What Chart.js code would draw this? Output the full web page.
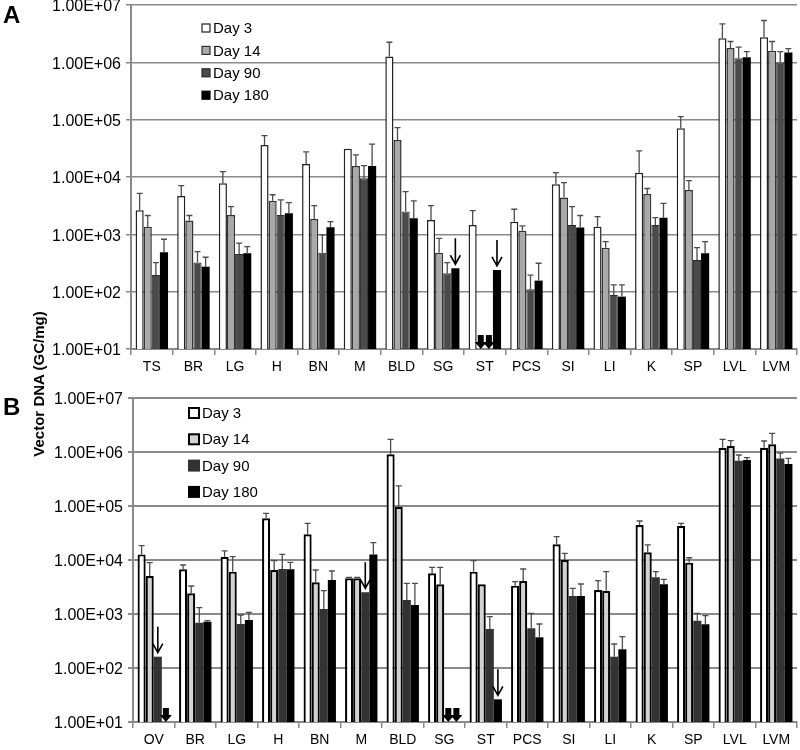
<!DOCTYPE html>
<html>
<head>
<meta charset="utf-8">
<script src="https://cdn.jsdelivr.net/npm/chart.js@4.4.1/dist/chart.umd.min.js"></script>
<style>
  body { margin: 0; background: #fff; width: 800px; height: 750px; position: relative; overflow: hidden;
         font-family: "Liberation Sans", Arial, sans-serif; }
  canvas { position: absolute; left: 0; }
  #chartA { top: -10px; }
  #chartB { top: 375px; }
  .panel { position: absolute; left: 3px; font-weight: bold; font-size: 24px; line-height: 24px; }
  #ytitle { position: absolute; left: 38px; top: 384px; font-weight: bold; font-size: 15px; white-space: nowrap;
            transform: translate(-50%, -50%) rotate(-90deg); }
</style>
</head>
<body>
<canvas id="chartA" width="800" height="390"></canvas>
<canvas id="chartB" width="800" height="375"></canvas>
<div class="panel" style="top:3px">A</div>
<div class="panel" style="top:395px">B</div>
<div id="ytitle">Vector DNA (GC/mg)</div>
<script>
const seriesNames = ["Day 3", "Day 14", "Day 90", "Day 180"];
const yTicks = [1e1, 1e2, 1e3, 1e4, 1e5, 1e6, 1e7];

// panel A
const catsA = ["TS", "BR", "LG", "H", "BN", "M", "BLD", "SG", "ST", "PCS", "SI", "LI", "K", "SP", "LVL", "LVM"];
const a3     = [2630, 4680, 7800, 36300, 16900, 31000, 1.26e6, 1780, 1460, 1660, 7460, 1350, 11900, 70900, 2.64e6, 2.75e6];
const a3Hi   = [5200, 7080, 12400, 52500, 27400, 31000, 2.24e6, 3170, 2590, 2740, 11900, 2040, 28500, 113000, 4.68e6, 5.37e6];
const a14    = [1360, 1740, 2180, 3870, 1860, 15600, 44400, 479, null, 1150, 4370, 586, 5070, 5960, 1.77e6, 1.59e6];
const a14Hi  = [2130, 2130, 3040, 4900, 3170, 24300, 72800, 850, null, 1400, 7980, 746, 6300, 8650, 2.31e6, 2.31e6];
const a90    = [195, 324, 455, 2180, 479, 9530, 2490, 209, null, 110, 1460, 87.5, 1460, 357, 1.18e6, 9.9e5];
const a90Hi  = [320, 499, 700, 3980, 975, 15800, 5560, 322, null, 195, 3040, 131, 1950, 586, 1.84e6, 1.54e6];
const a180   = [487, 273, 468, 2330, 1330, 15600, 1910, 256, 239, 156, 1310, 81.9, 1950, 468, 1.23e6, 1.48e6];
const a180Hi = [820, 398, 610, 3570, 1660, 37300, 3830, 256, 239, 313, 2130, 131, 3470, 746, 1.54e6, 1.74e6];
const arrowsA = [["SG", 3], ["ST", 3]];          // above-bar arrows
const notDetA = [["ST", 1], ["ST", 2]];          // below detection

// panel B
const catsB = ["OV", "BR", "LG", "H", "BN", "M", "BLD", "SG", "ST", "PCS", "SI", "LI", "K", "SP", "LVL", "LVM"];
const b3     = [12700, 6720, 11500, 59200, 29900, 4580, 9.06e5, 5670, 6080, 3350, 19500, 2780, 44500, 42700, 1.2e6, 1.2e6];
const b3Hi   = [18400, 8080, 14700, 73200, 47800, 4760, 1.72e6, 7330, 9720, 3970, 27000, 4140, 52700, 47800, 1.72e6, 1.6e6];
const b14    = [5050, 2420, 6080, 6530, 3860, 4580, 97000, 3550, 3550, 4080, 10000, 2700, 13900, 8940, 1.29e6, 1.39e6];
const b14Hi  = [8910, 3300, 11500, 9720, 6530, 4760, 2.35e5, 7330, 3550, 6810, 13300, 6080, 19000, 11000, 1.62e6, 2.22e6];
const b90    = [162, 690, 653, 6810, 1240, 2520, 1820, null, 527, 543, 2150, 162, 4790, 752, 6.9e5, 7.6e5];
const b90Hi  = [162, 1310, 958, 12700, 2700, 2520, 3700, null, 891, 1030, 2990, 278, 6080, 1030, 8.8e5, 9.5e5];
const b180   = [null, 721, 774, 6720, 4260, 12700, 1470, null, 26.3, 370, 2150, 222, 3550, 644, 7.1e5, 6.0e5];
const b180Hi = [null, 752, 1070, 9060, 6250, 20900, 3700, null, 26.3, 653, 3590, 380, 4390, 931, 7.9e5, 7.6e5];
const arrowsB = [["OV", 2], ["M", 2], ["ST", 3]];
const notDetB = [["OV", 3], ["SG", 2], ["SG", 3]];

const fillsA = ["#ffffff", "#a9a9a9", "#4a4a4a", "#000000"];
const edgesA = ["#222222", "#333333", "#2a2a2a", "#000000"];
const fillsB = ["#ffffff", "#d2d2d2", "#333333", "#000000"];
const edgesB = ["#000000", "#000000", "#333333", "#000000"];

const tickFont = { size: 16, family: "'Liberation Sans Narrow', 'Arial Narrow', 'Liberation Sans', sans-serif" };
const catFont = { size: 14, family: "'Liberation Sans', Arial, sans-serif" };

function fmtSci(v) {
  const e = Math.round(Math.log10(v));
  return "1.00E+" + String(e).padStart(2, "0");
}

const errorBars = {
  id: "errorBars",
  afterDatasetsDraw(chart) {
    const ctx = chart.ctx, y = chart.scales.y;
    const hi = chart.options.plugins.errorBars.hi;
    ctx.save();
    ctx.strokeStyle = "#4d4d4d";
    ctx.lineWidth = 1.3;
    chart.data.datasets.forEach((ds, i) => {
      chart.getDatasetMeta(i).data.forEach((bar, j) => {
        const v = ds.data[j], top = hi[i][j];
        if (v == null || top == null || top <= v) return;
        const y0 = y.getPixelForValue(v), y1 = y.getPixelForValue(top);
        ctx.beginPath();
        ctx.moveTo(bar.x, y0);
        ctx.lineTo(bar.x, y1);
        ctx.moveTo(bar.x - 3, y1);
        ctx.lineTo(bar.x + 3, y1);
        ctx.stroke();
      });
    });
    ctx.restore();
  }
};

const markers = {
  id: "markers",
  afterDatasetsDraw(chart) {
    const ctx = chart.ctx, x = chart.scales.x, y = chart.scales.y;
    const o = chart.options.plugins.markers;
    const n = chart.data.datasets.length;
    const barX = (cat, s) => {
      const el = chart.getDatasetMeta(s).data[chart.data.labels.indexOf(cat)];
      if (el && isFinite(el.x)) return el.x;
      const w = (x.getPixelForValue(1) - x.getPixelForValue(0)) * 0.78;
      return x.getPixelForValue(chart.data.labels.indexOf(cat)) - w / 2 + w / n * (s + 0.5);
    };
    ctx.save();
    ctx.strokeStyle = "#000";
    ctx.fillStyle = "#000";
    ctx.lineWidth = 1.6;
    o.arrows.forEach(([cat, s]) => {
      const v = chart.data.datasets[s].data[chart.data.labels.indexOf(cat)];
      const px = barX(cat, s);
      const tip = y.getPixelForValue(v) - 4;
      ctx.beginPath();
      ctx.moveTo(px, tip - 26);
      ctx.lineTo(px, tip);
      ctx.moveTo(px - 5, tip - 9);
      ctx.lineTo(px, tip);
      ctx.lineTo(px + 5, tip - 9);
      ctx.stroke();
    });
    o.notDetected.forEach(([cat, s]) => {
      const px = barX(cat, s);
      const base = y.bottom;
      ctx.fillRect(px - 3, base - 14, 6, 8);
      ctx.beginPath();
      ctx.moveTo(px - 6, base - 7);
      ctx.lineTo(px + 6, base - 7);
      ctx.lineTo(px, base);
      ctx.closePath();
      ctx.fill();
    });
    ctx.restore();
  }
};

const boxLegend = {
  id: "boxLegend",
  afterDraw(chart) {
    const ctx = chart.ctx, o = chart.options.plugins.boxLegend;
    ctx.save();
    ctx.font = o.fontSize + "px 'Liberation Sans', Arial, sans-serif";
    ctx.textBaseline = "middle";
    chart.data.datasets.forEach((ds, i) => {
      const cy = o.y + i * o.gap;
      ctx.fillStyle = ds.backgroundColor;
      ctx.fillRect(o.x, cy - o.box / 2, o.box, o.box);
      ctx.strokeStyle = ds.borderColor;
      ctx.lineWidth = o.edge;
      ctx.strokeRect(o.x, cy - o.box / 2, o.box, o.box);
      ctx.fillStyle = "#000";
      ctx.fillText(ds.label, o.x + o.box + 3, cy + 1);
    });
    ctx.restore();
  }
};

function makeChart(id, cats, series, hi, look) {
  new Chart(document.getElementById(id), {
    type: "bar",
    data: {
      labels: cats,
      datasets: series.map((d, i) => ({
        label: seriesNames[i],
        data: d,
        backgroundColor: look.fills[i],
        borderColor: look.edges[i],
        borderWidth: look.widths[i],
        barPercentage: 1.0,
        categoryPercentage: 0.78
      }))
    },
    options: {
      responsive: false,
      animation: false,
      devicePixelRatio: 1,
      layout: { padding: look.padding },
      plugins: {
        legend: { display: false },
        tooltip: { enabled: false },
        errorBars: { hi: hi },
        markers: { arrows: look.arrows, notDetected: look.notDet },
        boxLegend: look.legend
      },
      scales: {
        x: {
          grid: { display: true, drawOnChartArea: false, drawTicks: true, tickLength: 6, color: "#8a8a8a", lineWidth: 1.5, offset: true },
          border: { color: "#8a8a8a", width: 2 },
          ticks: { color: "#000", font: catFont, padding: 4, maxRotation: 0, autoSkip: false },
          afterFit: s => { s.height = 25; }
        },
        y: {
          type: "logarithmic",
          min: yTicks[0],
          max: yTicks[yTicks.length - 1],
          afterBuildTicks: s => { s.ticks = yTicks.map(v => ({ value: v })); },
          grid: { color: "#8a8a8a", lineWidth: look.gridWidth, tickLength: 5 },
          border: { color: "#8a8a8a", width: 2 },
          ticks: { color: "#000", font: tickFont, padding: 5, labelOffset: 2, callback: v => fmtSci(v) },
          afterFit: s => { s.width = look.yWidth; }
        }
      }
    },
    plugins: [errorBars, markers, boxLegend]
  });
}

makeChart("chartA", catsA, [a3, a14, a90, a180], [a3Hi, a14Hi, a90Hi, a180Hi], {
  fills: fillsA, edges: edgesA, widths: [1.5, 1.5, 1, 0], gridWidth: 1.5,
  padding: { top: 15, right: 3, left: 0, bottom: 6 }, yWidth: 131,
  arrows: arrowsA, notDet: notDetA,
  legend: { x: 202, y: 38, gap: 22.4, box: 8, edge: 1.2, fontSize: 15 }
});

makeChart("chartB", catsB, [b3, b14, b90, b180], [b3Hi, b14Hi, b90Hi, b180Hi], {
  fills: fillsB, edges: edgesB, widths: [2.2, 2.2, 0, 0], gridWidth: 2,
  padding: { top: 23, right: 3, left: 0, bottom: 3 }, yWidth: 133,
  arrows: arrowsB, notDet: notDetB,
  legend: { x: 189, y: 38, gap: 26.3, box: 10, edge: 2, fontSize: 15 }
});
</script>
</body>
</html>
